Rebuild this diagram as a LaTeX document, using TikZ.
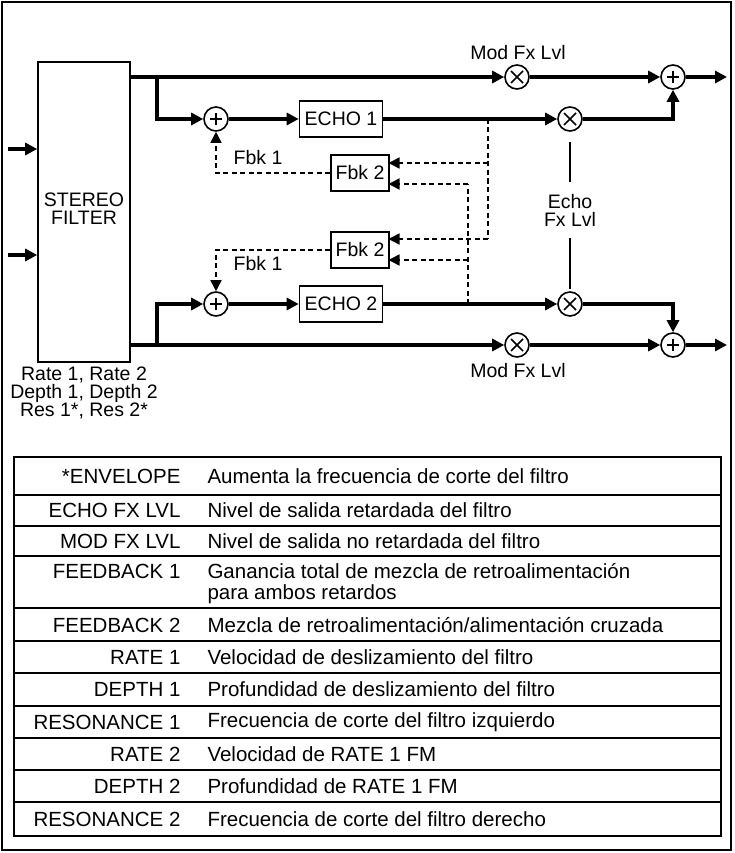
\documentclass[tikz,border=0pt]{standalone}
\usepackage{fontspec}
\setmainfont{Liberation Sans}
\usetikzlibrary{arrows.meta,positioning,calc}

\begin{document}
\begin{tikzpicture}[x=1pt,y=-1pt,font=\fontsize{19.5}{21}\selectfont,
  sig/.style={line width=3.5pt,-{Triangle[length=12pt,width=12pt]}},
  line/.style={line width=3.5pt},
  fbk/.style={line width=1.6pt,dash pattern=on 5pt off 3.5pt,-{Triangle[length=11pt,width=11pt]}},
  dsh/.style={line width=1.6pt,dash pattern=on 5pt off 3.5pt},
  blk/.style={draw,line width=1.6pt,inner sep=0pt},
  add/.style={draw,circle,line width=1.6pt,minimum size=24pt,inner sep=0pt,path picture={\draw[line width=1.6pt] (path picture bounding box.center) +(-6pt,0) -- +(6pt,0) +(0,-6pt) -- +(0,6pt);}},
  mul/.style={draw,circle,line width=1.6pt,minimum size=24pt,inner sep=0pt,path picture={\draw[line width=1.6pt] (path picture bounding box.center) +(-6pt,-6pt) -- +(6pt,6pt) +(-6pt,6pt) -- +(6pt,-6pt);}}]
            \useasboundingbox (0,0) rectangle (734,853);
            \draw[line width=2pt] (2,2) rectangle (731,850);

            % stereo filter and inputs
            \node[blk,minimum width=92pt,minimum height=300pt,align=center] (flt) at (84,212) {};
            \node[align=center] (fltt) at (84,209) {STEREO\\[-3pt]FILTER};
            \node[align=center] (prm) at (84,393) {Rate 1, Rate 2\\[-3pt]Depth 1, Depth 2\\[-3pt]Res 1*, Res 2*};
            \coordinate (in1) at (8,149);
            \coordinate (in2) at (8,255);
            \draw[sig] (in1) -- (in1 -| flt.west);
            \draw[sig] (in2) -- (in2 -| flt.west);

            % summing and multiplying points
            \node[add] (s1) at (216,119) {};
            \node[add] (s2) at (216,304) {};
            \node[mul] (m1) at (517,77) {};
            \node[mul] (m2) at (570,119) {};
            \node[mul] (m3) at (570,304) {};
            \node[mul] (m4) at (517,345) {};
            \node[add] (o1) at (673,77) {};
            \node[add] (o2) at (673,345) {};
            \coordinate (out1) at (727,77);
            \coordinate (out2) at (727,345);

            \node[blk,minimum width=83pt,minimum height=36pt] (e1) at (341,119) {ECHO 1};
            \node[blk,minimum width=83pt,minimum height=36pt] (e2) at (341,304) {ECHO 2};
            \node[blk,minimum width=58pt,minimum height=36pt] (f1) at (360,173) {Fbk 2};
            \node[blk,minimum width=58pt,minimum height=36pt] (f2) at (360,250) {Fbk 2};

            \node (l1) at (518,53) {Mod Fx Lvl};
            \node (l2) at (518,371) {Mod Fx Lvl};
            \node[align=center,inner sep=12pt] (l3) at (570,210) {Echo\\[-3pt]Fx Lvl};
            \node (k1) at (258,158) {Fbk 1};
            \node (k2) at (258,264) {Fbk 1};

            % main signal paths
            \coordinate (j1) at (157,77);
            \coordinate (j2) at (157,345);
            \draw[sig] (flt.east |- m1) -- (m1);
            \draw[sig] (m1) -- (o1);
            \draw[sig] (o1) -- (out1);
            \draw[sig] (flt.east |- m4) -- (m4);
            \draw[sig] (m4) -- (o2);
            \draw[sig] (o2) -- (out2);
            \draw[sig] (j1) |- (s1);
            \draw[sig] (j2) |- (s2);
            \draw[sig] (s1) -- (e1);
            \draw[sig] (s2) -- (e2);
            \draw[sig] (e1) -- (m2);
            \draw[sig] (e2) -- (m3);
            \draw[sig] (m2) -| (o1);
            \draw[sig] (m3) -| (o2);
            \draw[line width=1.2pt,shorten <=10pt] (m2) -- (l3.north);
            \draw[line width=1.2pt,shorten <=2pt] (m3) -- (l3.south);

            % feedback paths
            \coordinate (t1) at (488,119);
            \coordinate (t2) at (468,304);
            \draw[dsh] (t1) -- (488,239);
            \draw[dsh] (t2) -- (468,184);
            \draw[fbk] (488,163) -- (388.5,163);
            \draw[fbk] (468,184) -- (388.5,184);
            \draw[fbk] (488,239) -- (388.5,239);
            \draw[fbk] (468,260) -- (388.5,260);
            \draw[fbk] (f1.west) -| (s1);
            \draw[fbk] (f2.west) -| (s2);

            % parameter table
            \draw[line width=2pt] (14,457) rectangle (721,836);
            \foreach \yy in {495,526,556,608,641,673,706,738,770,802}
              \draw[line width=1.2pt] (14,\yy) -- (721,\yy);
            \foreach \yy/\nm/\txt [count=\i] in {476/*ENVELOPE/Aumenta la frecuencia de corte del filtro,
                510/ECHO FX LVL/Nivel de salida retardada del filtro,
                541/MOD FX LVL/Nivel de salida no retardada del filtro,
                571/FEEDBACK 1/Ganancia total de mezcla de retroalimentación,
                625/FEEDBACK 2/{Mezcla de retroalimentación/alimentación cruzada},
                657/RATE 1/Velocidad de deslizamiento del filtro,
                689/DEPTH 1/Profundidad de deslizamiento del filtro,
                722/RESONANCE 1/Frecuencia de corte del filtro izquierdo,
                754/RATE 2/Velocidad de RATE 1 FM,
                786/DEPTH 2/Profundidad de RATE 1 FM,
                819/RESONANCE 2/Frecuencia de corte del filtro derecho}{
              \node[anchor=east,font=\fontsize{20.5}{22}\selectfont] (p\i) at (184,\yy) {\nm};
              \node[anchor=west,font=\fontsize{20.5}{22}\selectfont] (d\i) at (204,\yy) {\txt};
            }
            \node[anchor=west,font=\fontsize{20.5}{22}\selectfont] (d4b) at (204,594) {para ambos retardos};
        \end{tikzpicture}
\end{document}
